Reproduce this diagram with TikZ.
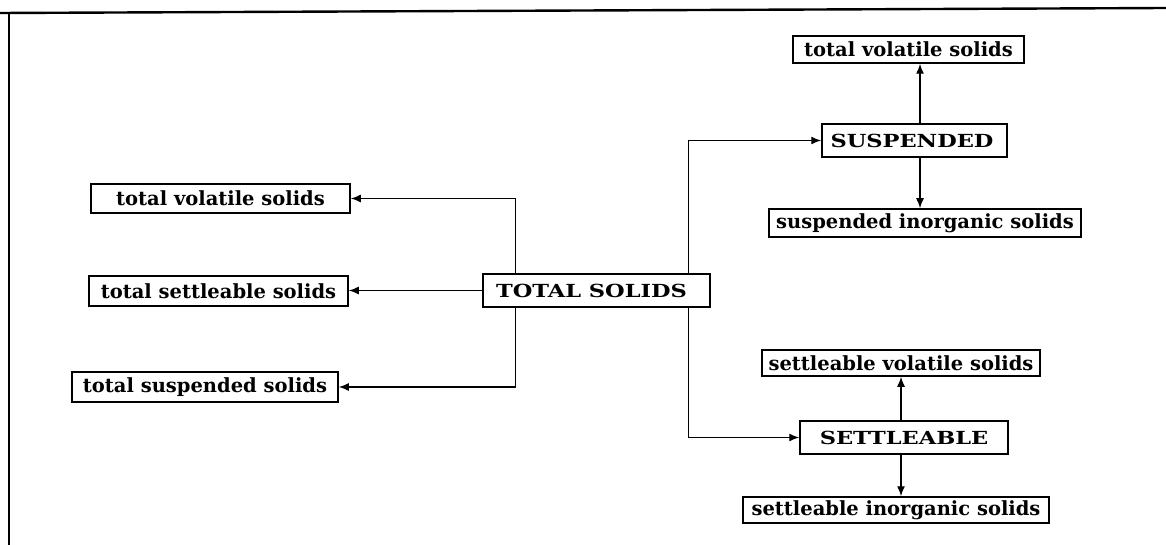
\documentclass[tikz,border=0pt]{standalone}
\usepackage{fontspec}
\setmainfont{DejaVu Serif}
\newfontfamily\capsfont[FakeStretch=1.25]{DejaVu Serif}
\usetikzlibrary{arrows.meta,calc}
\begin{document}
\begin{tikzpicture}[x=1pt,y=-1pt,
  box/.style={draw, line width=1.5pt, inner sep=0pt, align=center,
    font=\fontsize{19.5}{21}\selectfont\bfseries},
  capbox/.style={draw, line width=1.5pt, inner sep=0pt, align=center,
    font=\capsfont\fontsize{18}{20}\selectfont\bfseries},
  conn/.style={line width=1.4pt, -{Latex[length=10pt,width=8pt]}},
  frame/.style={line width=2.4pt}]
\useasboundingbox (0,0) rectangle (1166,545);
% frame
\coordinate (fl) at (0,13);
\coordinate (fr) at (1166,8);
\coordinate (vt) at (9,12);
\coordinate (vb) at (9,545);
\draw[frame] (fl) -- (fr);
\draw[line width=2pt] (vt) -- (vb);
% nodes
\node[box, minimum width=259pt, minimum height=29pt] (tvsL) at (220.5,198.5) {total volatile solids};
\node[box, minimum width=259pt, minimum height=30pt] (tssL) at (218.5,291) {total settleable solids};
\node[box, minimum width=266pt, minimum height=30pt] (tsusL) at (205,387) {total suspended solids};
\node[capbox, minimum width=227pt, minimum height=33pt] (total) at (596.5,290.5) {TOTAL SOLIDS\hspace{10pt}};
\node[capbox, minimum width=185pt, minimum height=33pt] (susp) at (914.5,140.5) {SUSPENDED\hspace{5pt}};
\node[box, minimum width=231pt, minimum height=27pt] (tvsR) at (908.5,49.5) {total volatile solids};
\node[box, minimum width=312pt, minimum height=28pt] (sis) at (925,223) {suspended inorganic solids};
\node[capbox, minimum width=208pt, minimum height=33pt] (settl) at (904,437.5) {SETTLEABLE};
\node[box, minimum width=278pt, minimum height=26pt] (svs) at (901,363) {settleable volatile solids};
\node[box, minimum width=306pt, minimum height=26pt] (sinorg) at (896,510) {settleable inorganic solids};
% branch coordinates
\coordinate (tl1) at ($(total.north west)+(33,0)$);
\coordinate (tl2) at ($(total.south west)+(33,0)$);
\coordinate (tr1) at ($(total.north west)+(206,0)$);
\coordinate (tr2) at ($(total.south west)+(206,0)$);
\coordinate (su1) at ($(susp.north)+(5.5,0)$);
\coordinate (su2) at ($(susp.south)+(5.5,0)$);
\coordinate (se1) at ($(settl.north)+(-3,0)$);
\coordinate (se2) at ($(settl.south)+(-3,0)$);
% connectors from TOTAL SOLIDS
\draw[conn] (tl1) |- (tvsL.east);
\draw[conn] (total.west) -- (total.west -| tssL.east);
\draw[conn] (tl2) |- (tsusL.east);
\draw[conn] (tr1) |- (susp.west);
\draw[conn] (tr2) |- (settl.west);
% suspended branch
\draw[conn] (su1) -- (su1 |- tvsR.south);
\draw[conn] (su2) -- (su2 |- sis.north);
% settleable branch
\draw[conn] (se1) -- (se1 |- svs.south);
\draw[conn] (se2) -- (se2 |- sinorg.north);
\end{tikzpicture}
\end{document}
